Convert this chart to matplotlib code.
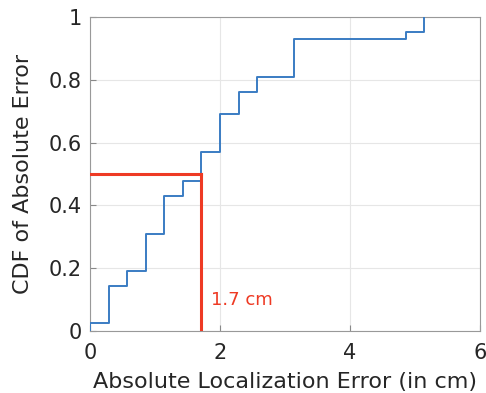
import matplotlib.pyplot as plt

plt.rcParams['font.family'] = ['DejaVu Sans']

# sorted absolute errors (cm) and the empirical CDF at each one
err = [0, 0, 0.286, 0.571, 0.857, 1.143, 1.429, 1.714, 2.0, 2.286, 2.571, 3.143, 4.857, 5.143]
cdf = [0, 0.024, 0.143, 0.190, 0.310, 0.429, 0.476, 0.571, 0.690, 0.762, 0.810, 0.929, 0.952, 1.0]

median_err = 1.714
median_cdf = 0.5
note = '1.7 cm'

fig = plt.figure(figsize=(4.86, 3.93), dpi=100)
ax = fig.add_axes([0.185, 0.158, 0.803, 0.799])

ax.step(err, cdf, where='post', color='#3a7cc3', linewidth=1.4, zorder=3)

ax.plot([0, median_err], [median_cdf, median_cdf], color='#ee3a24', linewidth=2.2, zorder=4)
ax.plot([median_err, median_err], [0, median_cdf], color='#ee3a24', linewidth=2.2, zorder=4)
ax.text(1.86, 0.1, note, color='#ee3a24', fontsize=13, va='center')

ax.set_xlim(0, 6)
ax.set_ylim(0, 1)
ax.set_xticks([0, 2, 4, 6])
ax.set_yticks([0, 0.2, 0.4, 0.6, 0.8, 1])
ax.set_yticklabels(['0', '0.2', '0.4', '0.6', '0.8', '1'])
ax.grid(True, color='#e6e6e6', linewidth=0.8)
ax.set_axisbelow(True)
ax.tick_params(direction='in', labelsize=15, colors='#888888', labelcolor='#262626', length=4)
ax.tick_params(axis='x', pad=9)
ax.tick_params(axis='y', pad=6)
for s in ax.spines.values():
    s.set_color('#999999')

ax.set_xlabel('Absolute Localization Error (in cm)', fontsize=16, color='#262626', labelpad=6)
ax.set_ylabel('CDF of Absolute Error', fontsize=16, color='#262626', labelpad=11)

fig.savefig('out.png', dpi=100)
